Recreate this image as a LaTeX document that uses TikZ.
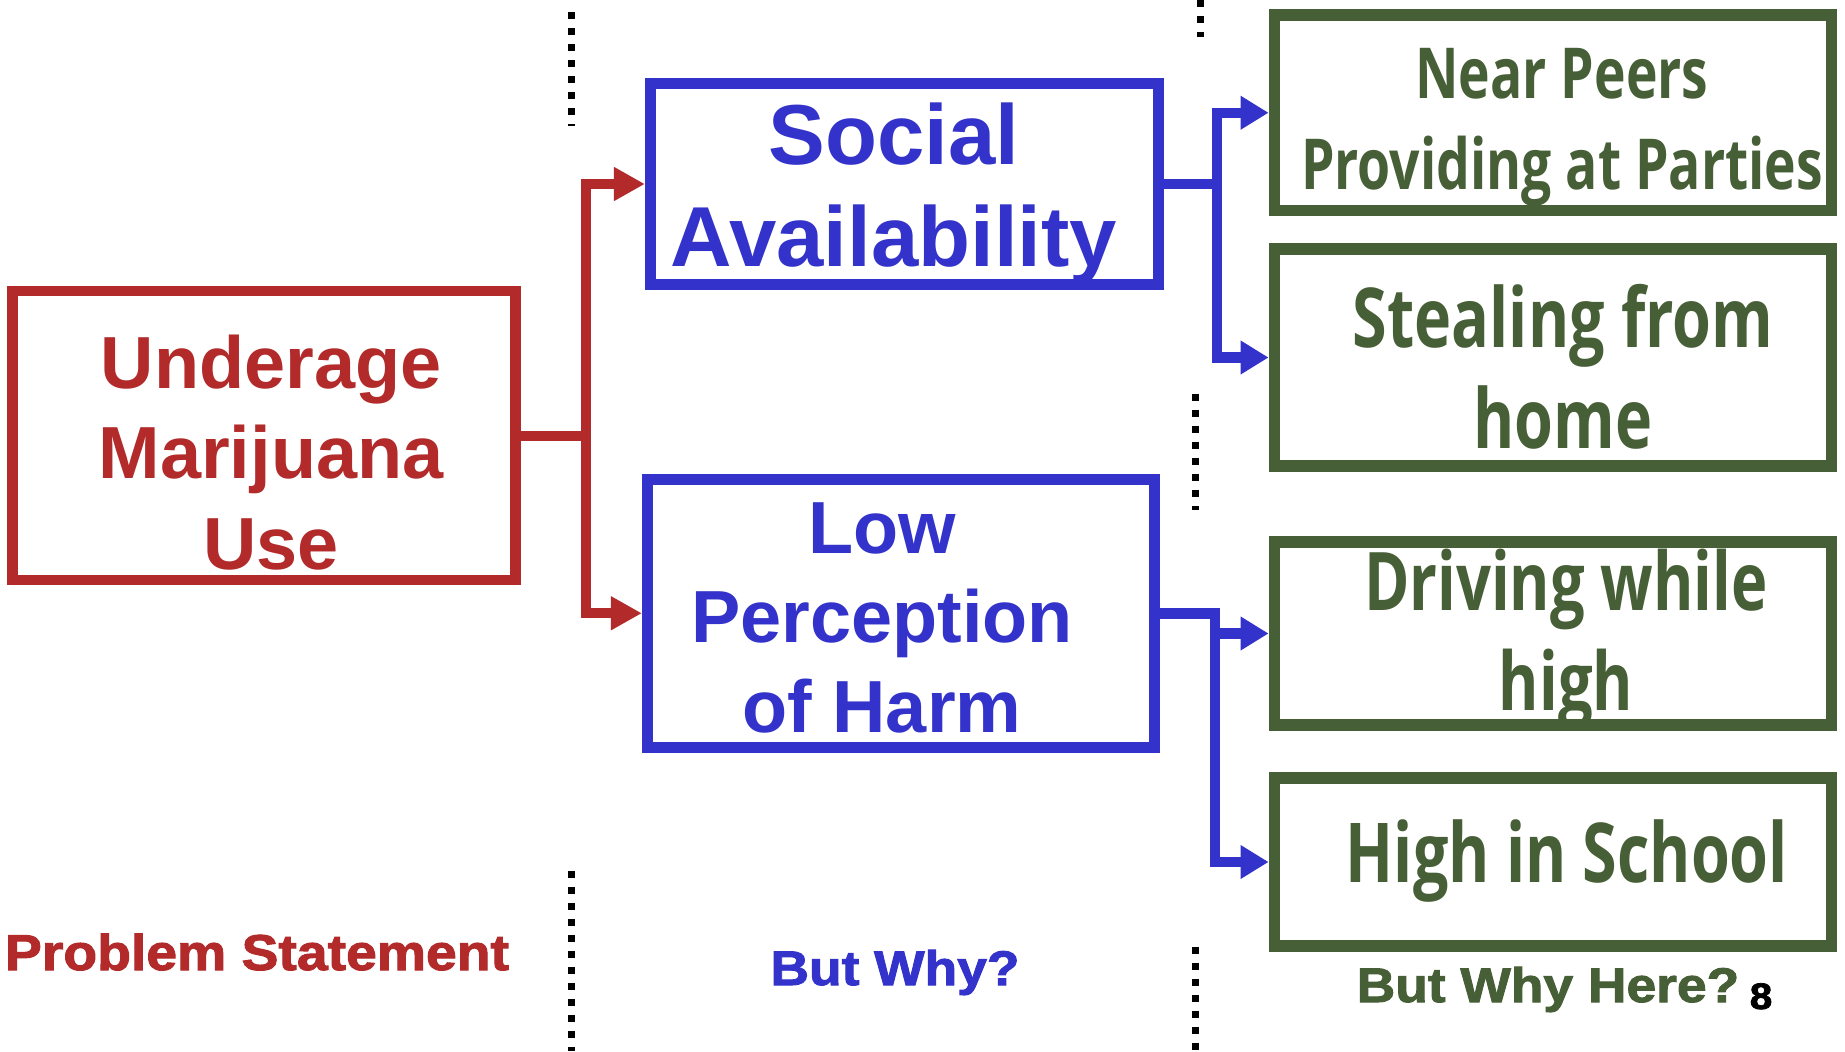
\documentclass[tikz,border=0pt]{standalone}
\usepackage{fontspec}
\setmainfont{Liberation Sans}
\newfontfamily\condfont{Open Sans}[FakeStretch=0.76]
\newfontfamily\heavyfont{Liberation Sans}[FakeStretch=1.1,FakeBold=2]
\usetikzlibrary{arrows.meta}
\definecolor{probred}{RGB}{178,42,42}
\definecolor{whyblue}{RGB}{51,51,204}
\definecolor{heregreen}{RGB}{71,95,55}

\begin{document}
\begin{tikzpicture}[x=0.01cm,y=-0.01cm,
    box/.style={draw,inner sep=0pt,line width=0.11cm},
    redbox/.style={box,draw=probred,line width=0.105cm},
    bluebox/.style={box,draw=whyblue},
    greenbox/.style={box,draw=heregreen,line width=0.115cm,minimum width=5.57cm},
    redtxt/.style={text=probred,align=center,anchor=base,font=\bfseries\fontsize{21}{25.6}\selectfont},
    bluetxt/.style={text=whyblue,align=center,anchor=base,font=\bfseries\fontsize{21}{25.4}\selectfont},
    greentxt/.style={text=heregreen,align=center,anchor=base,font=\condfont\bfseries\fontsize{23.5}{28.5}\selectfont},
    steptxt/.style={anchor=base,font=\heavyfont\bfseries\fontsize{13.8}{16}\selectfont},
    redarrow/.style={draw=probred,line width=0.1cm,-{Triangle[length=0.31cm,width=0.32cm]}},
    bluearrow/.style={draw=whyblue,line width=0.105cm,-{Triangle[length=0.28cm,width=0.32cm]}},
    sepline/.style={line width=0.07cm,dash pattern=on 0.07cm off 0.09cm}]
    \fill[white] (0,0) rectangle (1845,1051);
    \useasboundingbox (0,0) rectangle (1845,1051);
    % separators
    \draw[sepline] (571,12) -- (571,126);
    \draw[sepline] (571,871) -- (571,1051);
    \draw[sepline] (1200,0) -- (1200,37);
    \draw[sepline] (1195,394) -- (1195,510);
    \draw[sepline] (1195,947) -- (1195,1051);
    % problem statement
    \node[redbox,minimum width=5.03cm,minimum height=2.89cm] (problem) at (264,435.5) {};
    \node[redtxt] (problemtxt) at (271,569) {Underage\\Marijuana\\Use};
    % but why?
    \node[bluebox,minimum width=5.08cm,minimum height=2.01cm] (social) at (904.5,184) {};
    \node[bluetxt,font=\bfseries\fontsize{24.2}{29}\selectfont] (socialtxt) at (894,266) {Social\\Availability};
    \node[bluebox,minimum width=5.07cm,minimum height=2.675cm] (lowharm) at (901,613.25) {};
    \node[bluetxt] (lowharmtxt) at (882,732) {Low\\Perception\\of Harm};
    % but why here?
    \node[greenbox,minimum height=1.955cm] (peers) at (1553,112.75) {};
    \node[greentxt,font=\condfont\bfseries\fontsize{20}{25.6}\selectfont] (peerstxt) at (1562,189) {Near Peers\\Providing at Parties};
    \node[greenbox,minimum height=2.17cm] (stealing) at (1553,357.5) {};
    \node[greentxt] (stealingtxt) at (1563,448) {Stealing from\\home};
    \node[greenbox,minimum height=1.83cm] (driving) at (1553,633.5) {};
    \node[greentxt,font=\condfont\bfseries\fontsize{23}{28.2}\selectfont] (drivingtxt) at (1566,710) {Driving while\\high};
    \node[greenbox,minimum height=1.68cm] (school) at (1553,862) {};
    \node[greentxt] (schooltxt) at (1567,882.5) {High in School};
    % connectors
    \draw[redarrow] (problem.east) -- ++(65,0) |- (social.west);
    \draw[redarrow] (problem.east) -- ++(65,0) |- (lowharm.west);
    \draw[bluearrow] (social.east) -- ++(53,0) |- (peers.west);
    \draw[bluearrow] (social.east) -- ++(53,0) |- (stealing.west);
    \draw[bluearrow] (lowharm.east) -- ++(55,0) |- (driving.west);
    \draw[bluearrow] (lowharm.east) -- ++(55,0) |- (school.west);
    % column titles
    \node[steptxt,text=probred,font=\heavyfont\bfseries\fontsize{14.3}{16}\selectfont] (problemlbl) at (257,970) {Problem Statement};
    \node[steptxt,text=whyblue] (whylbl) at (895,985) {But Why?};
    \node[steptxt,text=heregreen] (herelbl) at (1548,1002) {But Why Here?};
    \node[anchor=base west,inner sep=0pt,font=\heavyfont\bfseries\fontsize{10.5}{12}\selectfont] (pagenum) at (1749,1009) {8};
\end{tikzpicture}
\end{document}
